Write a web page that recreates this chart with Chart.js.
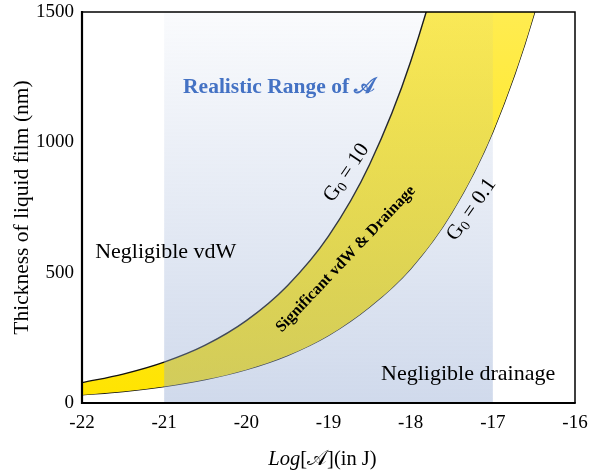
<!DOCTYPE html>
<html>
<head>
<meta charset="utf-8">
<script src="https://cdn.jsdelivr.net/npm/chart.js@4.4.0/dist/chart.umd.min.js"></script>
<style>
  html, body { margin: 0; padding: 0; background: #fff; }
  #chart { display: block; }
</style>
</head>
<body>
<canvas id="chart" width="589" height="472"></canvas>
<script>
// log10 of Hamaker constant (J)
const logA = [-22, -21.5, -21, -20.5, -20, -19.5, -19, -18.5, -18, -17.5, -17, -16.5, -16];
// film thickness (nm)
const g0High = [78, 111, 157, 222, 316, 450, 640, 915, 1310, 1870, 2660, 3790, 5400];   // G0 = 10
const g0Low = [31, 44, 63, 90, 128, 182, 259, 368, 515, 730, 1040, 1490, 2120];         // G0 = 0.1

const xTicks = [-22, -21, -20, -19, -18, -17, -16];
const yTicks = [0, 500, 1000, 1500];
const realisticRange = [-21, -17];

const serif = '"Liberation Serif", "DejaVu Serif", serif';

const toPoints = (ys) => logA.map((x, i) => ({ x: x, y: ys[i] }));

const bandFill = (ctx) => {
  const area = ctx.chart.chartArea;
  if (!area) return '#FFE600';
  const g = ctx.chart.ctx.createLinearGradient(0, area.top, 0, area.bottom);
  g.addColorStop(0, 'rgb(255,236,80)');
  g.addColorStop(1, 'rgb(255,228,0)');
  return g;
};

// G0 label with subscript
function drawG0(ctx, value) {
  const big = '21px ' + serif;
  const small = '14px ' + serif;
  ctx.font = big;
  const wG = ctx.measureText('G').width;
  const wRest = ctx.measureText(' = ' + value).width;
  ctx.font = small;
  const w0 = ctx.measureText('0').width;
  let x = -(wG + w0 + wRest) / 2;
  ctx.textBaseline = 'middle';
  ctx.textAlign = 'left';
  ctx.font = big;
  ctx.fillText('G', x, 0);
  x += wG;
  ctx.font = small;
  ctx.fillText('0', x, 5);
  x += w0;
  ctx.font = big;
  ctx.fillText(' = ' + value, x, 0);
}

const overlayPlugin = {
  id: 'overlay',
  afterDatasetsDraw(chart) {
    const { ctx, chartArea: a, scales: { x, y } } = chart;
    const x0 = x.getPixelForValue(realisticRange[0]);
    const x1 = x.getPixelForValue(realisticRange[1]);

    ctx.save();
    const g = ctx.createLinearGradient(0, a.top, 0, a.bottom);
    g.addColorStop(0, 'rgba(148,170,211,0.05)');
    g.addColorStop(1, 'rgba(148,170,211,0.44)');
    ctx.fillStyle = g;
    ctx.fillRect(x0, a.top, x1 - x0, a.bottom - a.top);

    const at = (xv, yv, deg, fn) => {
      ctx.save();
      ctx.translate(x.getPixelForValue(xv), y.getPixelForValue(yv));
      ctx.rotate(deg * Math.PI / 180);
      fn();
      ctx.restore();
    };

    ctx.fillStyle = '#4472C4';
    ctx.font = 'bold 21.5px ' + serif;
    ctx.textAlign = 'left';
    ctx.textBaseline = 'alphabetic';
    ctx.fillText('Realistic Range of \u{1D49C}', x.getPixelForValue(-20.77), 93);

    ctx.fillStyle = '#000';
    ctx.font = '22px ' + serif;
    ctx.fillText('Negligible vdW', x.getPixelForValue(-21.84), 258);
    ctx.fillText('Negligible drainage', x.getPixelForValue(-18.36), 380);

    at(-18.79, 552, -46.6, () => {
      ctx.font = 'bold 16px ' + serif;
      ctx.textAlign = 'center';
      ctx.textBaseline = 'middle';
      ctx.fillText('Significant vdW & Drainage', 0, 0);
    });
    at(-18.78, 883, -56, () => drawG0(ctx, '10'));
    at(-17.26, 742, -55, () => drawG0(ctx, '0.1'));

    // x axis title: Log[A](in J)
    const cx = (a.left + a.right) / 2 - 6;
    const f1 = 'italic 20.5px ' + serif;
    const f2 = '20.5px ' + serif;
    const s1 = 'Log';
    const s2 = '[\u{1D49C}](in J)';
    ctx.font = f1;
    const w1 = ctx.measureText(s1).width;
    ctx.font = f2;
    const w2 = ctx.measureText(s2).width;
    const sx = cx - (w1 + w2) / 2;
    ctx.textAlign = 'left';
    ctx.textBaseline = 'alphabetic';
    ctx.font = f1;
    ctx.fillText(s1, sx, 465);
    ctx.font = f2;
    ctx.fillText(s2, sx + w1, 465);
    ctx.restore();
  },
  afterDraw(chart) {
    const { ctx, chartArea: a } = chart;
    ctx.save();
    ctx.strokeStyle = '#000';
    ctx.lineWidth = 1.5;
    ctx.beginPath();
    ctx.moveTo(a.left, a.top);
    ctx.lineTo(a.right, a.top);
    ctx.lineTo(a.right, a.bottom);
    ctx.stroke();
    ctx.lineWidth = 2.2;
    ctx.beginPath();
    ctx.moveTo(a.left, a.top - 1);
    ctx.lineTo(a.left, a.bottom);
    ctx.lineTo(a.right + 0.75, a.bottom);
    ctx.stroke();
    ctx.restore();
  }
};

new Chart(document.getElementById('chart'), {
  type: 'line',
  data: {
    datasets: [
      {
        label: 'G0 = 10',
        data: toPoints(g0High),
        borderColor: '#111',
        borderWidth: 1.4,
        pointRadius: 0,
        cubicInterpolationMode: 'monotone',
        fill: 1,
        backgroundColor: bandFill
      },
      {
        label: 'G0 = 0.1',
        data: toPoints(g0Low),
        borderColor: '#111',
        borderWidth: 1.4,
        pointRadius: 0,
        cubicInterpolationMode: 'monotone',
        fill: false
      }
    ]
  },
  options: {
    responsive: false,
    animation: false,
    layout: { padding: { top: 12, right: 14, bottom: 0, left: 0 } },
    plugins: {
      legend: { display: false },
      tooltip: { enabled: false }
    },
    scales: {
      x: {
        type: 'linear',
        min: -22,
        max: -16,
        afterBuildTicks: (s) => { s.ticks = xTicks.map(v => ({ value: v })); },
        afterFit: (s) => { s.height = 69; s.paddingLeft = 0; s.paddingRight = 0; },
        grid: { display: false, drawTicks: false },
        border: { display: false },
        ticks: {
          padding: 9,
          color: '#000',
          font: { family: serif, size: 19 },
          callback: (v) => String(v)
        }
      },
      y: {
        min: 0,
        max: 1500,
        afterBuildTicks: (s) => { s.ticks = yTicks.map(v => ({ value: v })); },
        afterFit: (s) => { s.width = 82; s.paddingTop = 0; s.paddingBottom = 0; },
        grid: { display: false, drawTicks: false },
        border: { display: false },
        ticks: {
          padding: 8,
          color: '#000',
          font: { family: serif, size: 19 },
          callback: (v) => String(v)
        },
        title: {
          display: true,
          text: 'Thickness of liquid film (nm)',
          color: '#000',
          font: { family: serif, size: 21.5 },
          padding: { top: 9, bottom: 0 }
        }
      }
    }
  },
  plugins: [overlayPlugin]
});
</script>
</body>
</html>
